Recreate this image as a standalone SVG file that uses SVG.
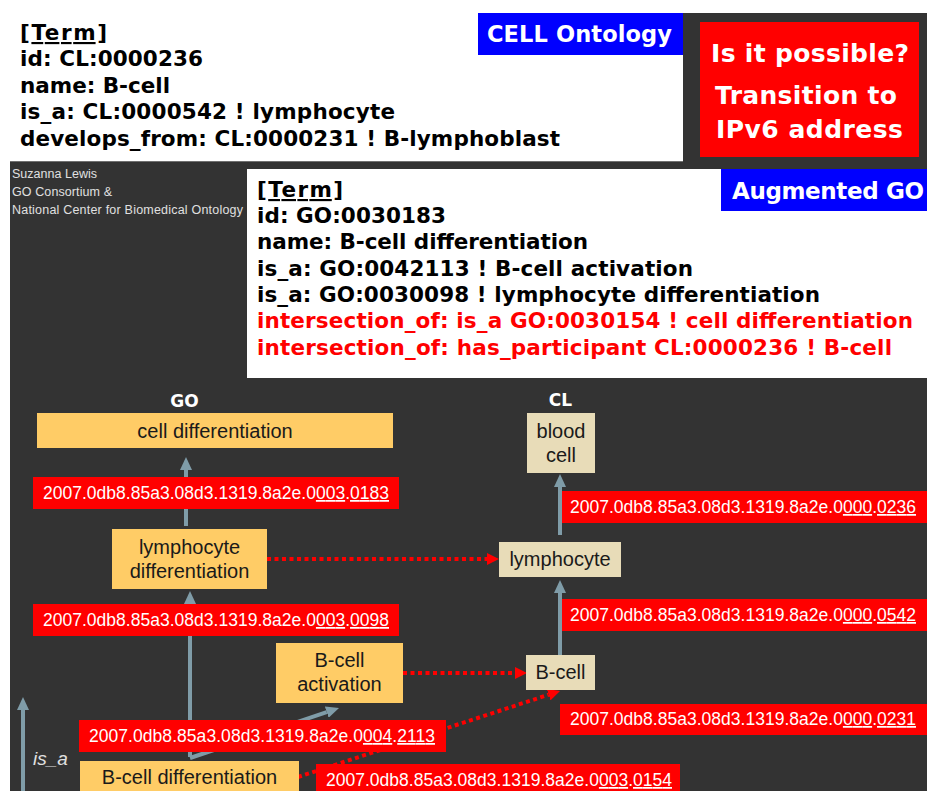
<svg xmlns="http://www.w3.org/2000/svg" width="927" height="791" viewBox="0 0 927 791">
<style>
.term{font-family:"DejaVu Sans",sans-serif;font-weight:bold;font-size:21.5px;fill:#000}
.redt{fill:#FF0000}
.tag{font-family:"DejaVu Sans",sans-serif;font-weight:bold;fill:#FFFFFF}
.small{font-family:"Liberation Sans",Arial,sans-serif;font-size:12.5px;fill:#E0E0E0}
.go{fill:#FFCC66}
.cl{fill:#E8DCB8}
.nl{font-family:"Liberation Sans",Arial,sans-serif;font-size:20px;fill:#1A1A1A;text-anchor:middle}
.hd{font-family:"DejaVu Sans",sans-serif;font-weight:bold;font-size:17px;fill:#FFFFFF;text-anchor:middle}
.lbl{fill:#FF0000}
.lt{font-family:"Liberation Sans",Arial,sans-serif;font-size:17.5px;fill:#FFFFFF}
.isa{stroke:#7F9CA8;stroke-width:4;fill:none;marker-end:url(#gh)}
.dot{stroke:#FF0000;stroke-width:4;stroke-dasharray:4 3.5;fill:none;marker-end:url(#rh)}
.u{text-decoration:underline}
</style>
<defs>
<marker id="gh" markerUnits="userSpaceOnUse" markerWidth="14" markerHeight="12" refX="0" refY="6" orient="auto">
<path d="M0,0 L13,6 L0,12 z" fill="#7F9CA8"/>
</marker>
<marker id="rh" markerUnits="userSpaceOnUse" markerWidth="13" markerHeight="12" refX="0" refY="6" orient="auto">
<path d="M0,0 L12,6 L0,12 z" fill="#FF0000"/>
</marker>
</defs>

<g id="background">
<rect x="0" y="0" width="927" height="791" fill="#FFFFFF"/>
<rect x="683" y="13" width="244" height="150" fill="#333333"/>
<rect x="10" y="161" width="917" height="630" fill="#333333"/>
<line x1="10" y1="161.5" x2="683" y2="161.5" stroke="#707070" stroke-width="1"/>
</g>

<g id="cl-term">
<rect x="478" y="13" width="205" height="42" fill="#0000FF"/>
<text class="tag" x="487" y="42" font-size="22.5" textLength="185">CELL Ontology</text>
<text class="term" x="20" y="40" textLength="87" text-decoration="underline">[Term]</text>
<text class="term" x="20" y="66" textLength="183">id: CL:0000236</text>
<text class="term" x="20" y="92.5" textLength="150">name: B-cell</text>
<text class="term" x="20" y="119" textLength="375">is_a: CL:0000542 ! lymphocyte</text>
<text class="term" x="20" y="145.5" textLength="540">develops_from: CL:0000231 ! B-lymphoblast</text>
</g>

<g id="question">
<rect x="700" y="22" width="219" height="135" fill="#FF0000"/>
<text class="tag" x="711" y="62" font-size="25" textLength="198">Is it possible?</text>
<text class="tag" x="715" y="104" font-size="25" textLength="182">Transition to</text>
<text class="tag" x="716" y="138" font-size="25" textLength="187">IPv6 address</text>
</g>

<g id="credits">
<text class="small" x="12" y="178" textLength="85">Suzanna Lewis</text>
<text class="small" x="12" y="196" textLength="100">GO Consortium &amp;</text>
<text class="small" x="12" y="214" textLength="231">National Center for Biomedical Ontology</text>
</g>

<g id="go-term">
<rect x="247" y="169" width="680" height="209" fill="#FFFFFF"/>
<rect x="721" y="169" width="206" height="42" fill="#0000FF"/>
<text class="tag" x="732" y="199" font-size="23" textLength="192">Augmented GO</text>
<text class="term" x="257" y="197" textLength="86" text-decoration="underline">[Term]</text>
<text class="term" x="257" y="223" textLength="189">id: GO:0030183</text>
<text class="term" x="257" y="249" textLength="331">name: B-cell differentiation</text>
<text class="term" x="257" y="275.5" textLength="436">is_a: GO:0042113 ! B-cell activation</text>
<text class="term" x="257" y="302" textLength="563">is_a: GO:0030098 ! lymphocyte differentiation</text>
<text class="term redt" x="257" y="328" textLength="656">intersection_of: is_a GO:0030154 ! cell differentiation</text>
<text class="term redt" x="257" y="354.5" textLength="635">intersection_of: has_participant CL:0000236 ! B-cell</text>
</g>

<g id="headers">
<text class="hd" x="184.5" y="407">GO</text>
<text class="hd" x="560.5" y="406">CL</text>
<text x="33" y="765" font-family="Liberation Sans, Arial, sans-serif" font-style="italic" font-size="19" fill="#E0E0E0">is_a</text>
</g>

<g id="connectors">
<line class="isa" x1="186" y1="526" x2="186" y2="470"/>
<line class="isa" x1="190" y1="757" x2="190" y2="604"/>
<line class="isa" x1="190" y1="758" x2="326.7" y2="712.1"/>
<line class="isa" x1="560" y1="535" x2="560" y2="487"/>
<line class="isa" x1="560" y1="655" x2="560" y2="593"/>
<line class="isa" x1="23" y1="791" x2="23" y2="710"/>
<line class="dot" x1="267" y1="559" x2="487" y2="559"/>
<line class="dot" x1="403" y1="673" x2="515" y2="673"/>
<line class="dot" x1="298" y1="777" x2="548.6" y2="694.7"/>
</g>

<g id="connector-labels">
<rect class="lbl" x="33" y="477" width="366" height="32"/>
<text class="lt" x="43" y="499" textLength="346">2007.0db8.85a3.08d3.1319.8a2e.0<tspan class="u">003</tspan>.<tspan class="u">0183</tspan></text>
<rect class="lbl" x="33" y="604" width="366" height="32"/>
<text class="lt" x="43" y="626" textLength="346">2007.0db8.85a3.08d3.1319.8a2e.0<tspan class="u">003</tspan>.<tspan class="u">0098</tspan></text>
<rect class="lbl" x="79" y="720" width="367" height="32"/>
<text class="lt" x="89" y="742" textLength="346">2007.0db8.85a3.08d3.1319.8a2e.0<tspan class="u">004</tspan>.<tspan class="u">2113</tspan></text>
<rect class="lbl" x="316" y="764" width="364" height="30"/>
<text class="lt" x="326" y="786" textLength="346">2007.0db8.85a3.08d3.1319.8a2e.0<tspan class="u">003</tspan>.<tspan class="u">0154</tspan></text>
<rect class="lbl" x="562" y="491" width="365" height="32"/>
<text class="lt" x="570" y="513" textLength="346">2007.0db8.85a3.08d3.1319.8a2e.0<tspan class="u">000</tspan>.<tspan class="u">0236</tspan></text>
<rect class="lbl" x="562" y="599" width="365" height="32"/>
<text class="lt" x="570" y="621" textLength="346">2007.0db8.85a3.08d3.1319.8a2e.0<tspan class="u">000</tspan>.<tspan class="u">0542</tspan></text>
<rect class="lbl" x="560" y="704" width="367" height="31"/>
<text class="lt" x="570" y="725" textLength="346">2007.0db8.85a3.08d3.1319.8a2e.0<tspan class="u">000</tspan>.<tspan class="u">0231</tspan></text>
</g>

<g id="node-cell-differentiation">
<rect class="go" x="37" y="413" width="356" height="35"/>
<text class="nl" x="215" y="438">cell differentiation</text>
</g>
<g id="node-lymphocyte-differentiation">
<rect class="go" x="112" y="529" width="155" height="60"/>
<text class="nl" x="189.5" y="554">lymphocyte</text>
<text class="nl" x="189.5" y="578">differentiation</text>
</g>
<g id="node-b-cell-activation">
<rect class="go" x="276" y="643" width="127" height="60"/>
<text class="nl" x="339.5" y="667">B-cell</text>
<text class="nl" x="339.5" y="691">activation</text>
</g>
<g id="node-b-cell-differentiation">
<rect class="go" x="80" y="761" width="219" height="40"/>
<text class="nl" x="189.5" y="784">B-cell differentiation</text>
</g>
<g id="node-blood-cell">
<rect class="cl" x="527" y="413" width="68" height="60"/>
<text class="nl" x="561" y="438">blood</text>
<text class="nl" x="561" y="462">cell</text>
</g>
<g id="node-lymphocyte">
<rect class="cl" x="499" y="542" width="122" height="35"/>
<text class="nl" x="560" y="566">lymphocyte</text>
</g>
<g id="node-b-cell">
<rect class="cl" x="526" y="655" width="69" height="35"/>
<text class="nl" x="560.5" y="679">B-cell</text>
</g>
</svg>
